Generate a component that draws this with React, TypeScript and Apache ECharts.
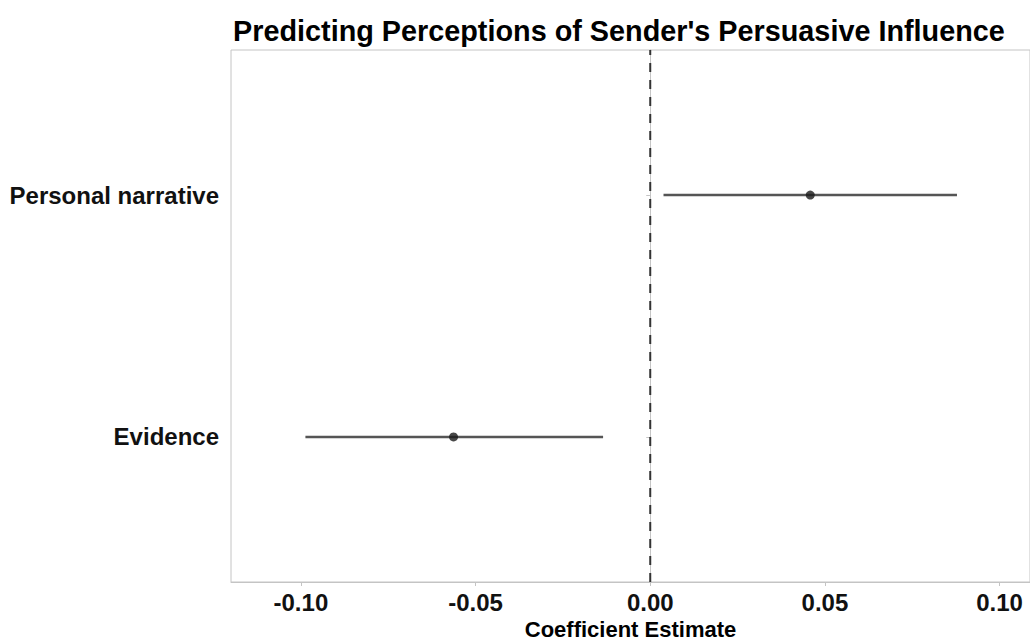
import React, { useEffect, useRef } from "react";
import * as echarts from "echarts";

const title = "Predicting Perceptions of Sender's Persuasive Influence";
const xAxisTitle = "Coefficient Estimate";
const categories = ["Evidence", "Personal narrative"];
const estimates = [-0.0563, 0.0458];
const lowerCI = [-0.0987, 0.0038];
const upperCI = [-0.0135, 0.0878];
const xTicks = [-0.1, -0.05, 0, 0.05, 0.1];
const yPositions = [1, 2];

const FONT = "'Liberation Sans', Arial, Helvetica, sans-serif";

export default function App() {
  const ref = useRef<HTMLDivElement>(null);
  useEffect(() => {
    if (!ref.current) return;
    const chart = echarts.init(ref.current, null, { renderer: "svg" });
    const barData = categories.map((c, i) => [lowerCI[i], upperCI[i], yPositions[i]]);
    const pointData = categories.map((c, i) => [estimates[i], yPositions[i]]);
    chart.setOption({
      animation: false,
      backgroundColor: "#ffffff",
      title: {
        text: title,
        left: 228,
        top: 11,
        textStyle: { fontFamily: FONT, fontSize: 28.8, fontWeight: "bold", color: "#000" },
      },
      grid: {
        left: 231,
        right: 0,
        top: 50,
        bottom: 59,
        show: true,
        borderColor: "#c4c4c4",
        borderWidth: 1,
        backgroundColor: "#fff",
        outerBoundsMode: "none",
        containLabel: false,
      },
      xAxis: {
        type: "value",
        min: -0.12,
        max: 0.1087,
        name: xAxisTitle,
        nameLocation: "middle",
        nameGap: 34,
        nameTextStyle: {
          fontFamily: FONT,
          fontSize: 22,
          lineHeight: 22,
          fontWeight: "bold",
          color: "#000",
        },
        axisLine: { show: true, lineStyle: { color: "#c4c4c4", width: 1 } },
        axisTick: { show: true, length: 4, lineStyle: { color: "#c4c4c4" }, customValues: xTicks },
        axisLabel: {
          customValues: xTicks,
          margin: 8,
          fontFamily: FONT,
          fontSize: 24,
          fontWeight: "bold",
          color: "#111",
          formatter: (v: number) => v.toFixed(2),
        },
        splitLine: { show: false },
      },
      yAxis: {
        type: "value",
        min: 0.4,
        max: 2.6,
        axisLine: { show: true, lineStyle: { color: "#c4c4c4", width: 1 } },
        axisTick: { show: true, length: 4, lineStyle: { color: "#c4c4c4" }, customValues: yPositions },
        axisLabel: {
          customValues: yPositions,
          margin: 12,
          fontFamily: FONT,
          fontSize: 24,
          fontWeight: "bold",
          color: "#111",
          formatter: (v: number) => {
            const idx = yPositions.indexOf(Math.round(v));
            return idx >= 0 ? categories[idx] : "";
          },
        },
        splitLine: { show: false },
      },
      series: [
        {
          type: "line",
          data: [[0, 0.4], [0, 2.6]],
          symbol: "none",
          lineStyle: { color: "#333", width: 2, type: [9, 8] },
          silent: true,
          z: 1,
        },
        {
          type: "custom",
          data: barData,
          renderItem: (params: any, api: any) => {
            const lo = api.coord([api.value(0), api.value(2)]);
            const hi = api.coord([api.value(1), api.value(2)]);
            return {
              type: "line",
              shape: { x1: lo[0], y1: lo[1], x2: hi[0], y2: hi[1] },
              style: { stroke: "#555", lineWidth: 2.5 },
            };
          },
          z: 2,
        },
        {
          type: "scatter",
          data: pointData,
          symbol: "circle",
          symbolSize: 9,
          itemStyle: { color: "#1a1a1a" },
          z: 3,
        },
      ],
    });
    return () => chart.dispose();
  }, []);
  return (
    <div
      ref={ref}
      style={{ position: "fixed", left: 0, top: 0, width: 1030, height: 641 }}
    />
  );
}
